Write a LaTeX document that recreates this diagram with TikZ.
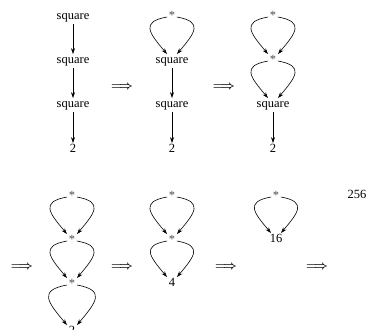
\documentclass[tikz,border=0pt]{standalone}
\usepackage{fontspec}
\setmainfont{Liberation Serif}
\usetikzlibrary{arrows.meta}

\begin{document}
\begin{tikzpicture}[x=1pt, y=1pt,
    term/.style={inner sep=1.5pt, text height=8pt, text depth=2.5pt, font=\fontsize{12.5}{14}\selectfont},
    op/.style={term, text=black!70},
    edge/.style={-{Stealth[length=6pt, width=4pt]}, line width=0.6pt},
    impl/.style={inner sep=0pt, font=\fontsize{13}{14}\selectfont\boldmath}]
    \useasboundingbox (0,0) rectangle (368,330);

    % top row
    \node (a1) [term] at (73,313) {square};
    \node (a2) [term] at (73,269) {square};
    \node (a3) [term] at (73,225) {square};
    \node (a4) [term] at (73,180) {2};

    \node (i1) [impl] at (122,243) {$\Longrightarrow$};

    \node (b1) [op]   at (172,313) {*};
    \node (b2) [term] at (172,269) {square};
    \node (b3) [term] at (172,225) {square};
    \node (b4) [term] at (172,180) {2};

    \node (i2) [impl] at (224,243) {$\Longrightarrow$};

    \node (c1) [op]   at (273,313) {*};
    \node (c2) [op]   at (273,269) {*};
    \node (c3) [term] at (273,225) {square};
    \node (c4) [term] at (273,180) {2};

    % bottom row
    \node (i3) [impl] at (22,63) {$\Longrightarrow$};

    \node (d1) [op]   at (72,133) {*};
    \node (d2) [op]   at (72,89) {*};
    \node (d3) [op]   at (72,45) {*};
    \node (d4) [term] at (72,-2) {2};

    \node (i4) [impl] at (122,63) {$\Longrightarrow$};

    \node (e1) [op]   at (172,133) {*};
    \node (e2) [op]   at (172,89) {*};
    \node (e3) [term] at (172,46) {4};

    \node (i5) [impl] at (226,63) {$\Longrightarrow$};

    \node (f1) [op]   at (276,133) {*};
    \node (f2) [term] at (276,90) {16};

    \node (i6) [impl] at (317,63) {$\Longrightarrow$};

    \node (g1) [term] at (357,134) {256};

    \foreach \u/\v in {a1/a2, a2/a3, a3/a4, b2/b3, b3/b4, c3/c4}
        \draw [edge] (\u) -- (\v);

    \foreach \u/\v in {b1/b2, c1/c2, c2/c3, d1/d2, d2/d3, d3/d4, e1/e2, e2/e3, f1/f2} {
        \draw [edge] (\u.west) to[out=190, in=130, looseness=1.9] ([xshift=-5pt]\v.north);
        \draw [edge] (\u.east) to[out=-10, in=50, looseness=1.9] ([xshift=5pt]\v.north);
    }
\end{tikzpicture}
\end{document}
